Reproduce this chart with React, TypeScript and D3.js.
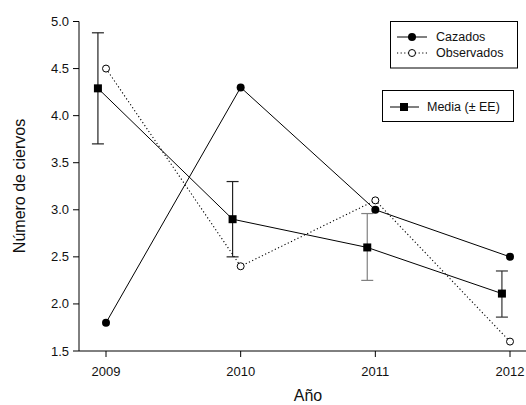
import React from "react";
import * as d3 from "d3";

const years = [2009, 2010, 2011, 2012];
const cazados = [1.8, 4.3, 3.0, 2.5];
const observados = [4.5, 2.4, 3.1, 1.6];
const media = [4.29, 2.9, 2.6, 2.11];
const mediaUpper = [4.88, 3.3, 2.96, 2.35];
const mediaLower = [3.7, 2.5, 2.25, 1.86];
const errColors = ["#222", "#222", "#808080", "#333"];
const yTicks = [1.5, 2.0, 2.5, 3.0, 3.5, 4.0, 4.5, 5.0];

const W = 526;
const H = 405;
const FONT = "'Liberation Sans', Arial, sans-serif";

export default function App() {
  const x = d3.scaleLinear().domain([2009, 2012]).range([106, 510]);
  const y = d3.scaleLinear().domain([1.5, 5.0]).range([351, 21.5]);
  const left = 79;
  const bottom = 351;
  const mOff = -0.06;

  const line = d3
    .line<[number, number]>()
    .x((d) => x(d[0]))
    .y((d) => y(d[1]));

  const cazPts = years.map((yr, i) => [yr, cazados[i]] as [number, number]);
  const obsPts = years.map((yr, i) => [yr, observados[i]] as [number, number]);
  const medPts = years.map((yr, i) => [yr + mOff, media[i]] as [number, number]);

  return (
    <svg
      width={W}
      height={H}
      style={{ position: "absolute", left: 0, top: 0, background: "#fff" }}
      fontFamily={FONT}
    >
      <rect x={0} y={0} width={W} height={H} fill="#fff" />
      {/* axes */}
      <line x1={left} y1={y(5.0)} x2={left} y2={bottom} stroke="#000" strokeWidth={1} />
      <line x1={left} y1={bottom} x2={W} y2={bottom} stroke="#000" strokeWidth={1} />
      {yTicks.map((t) => (
        <g key={t}>
          <line x1={left - 6} x2={left} y1={y(t)} y2={y(t)} stroke="#000" />
          <text x={69} y={y(t)} dy="0.35em" textAnchor="end" fontSize={13} fill="#111">
            {t.toFixed(1)}
          </text>
        </g>
      ))}
      {years.map((yr) => (
        <g key={yr}>
          <line x1={x(yr)} x2={x(yr)} y1={bottom} y2={bottom + 6} stroke="#000" />
          <text x={x(yr)} y={371} dy="0.35em" textAnchor="middle" fontSize={13} fill="#111">
            {yr}
          </text>
        </g>
      ))}
      <text x={308} y={401} textAnchor="middle" fontSize={16} fill="#111">
        Año
      </text>
      <text
        transform={`translate(25,186) rotate(-90)`}
        textAnchor="middle"
        fontSize={16}
        fill="#111"
      >
        Número de ciervos
      </text>

      {/* error bars */}
      {years.map((yr, i) => {
        const cx = x(yr + mOff);
        return (
          <g key={"e" + yr} stroke={errColors[i]} strokeWidth={1.2}>
            <line x1={cx} x2={cx} y1={y(mediaUpper[i])} y2={y(mediaLower[i])} />
            <line x1={cx - 6} x2={cx + 6} y1={y(mediaUpper[i])} y2={y(mediaUpper[i])} />
            <line x1={cx - 6} x2={cx + 6} y1={y(mediaLower[i])} y2={y(mediaLower[i])} />
          </g>
        );
      })}

      {/* lines */}
      <path d={line(medPts) || ""} fill="none" stroke="#000" strokeWidth={1} />
      <path d={line(cazPts) || ""} fill="none" stroke="#000" strokeWidth={1} />
      <path
        d={line(obsPts) || ""}
        fill="none"
        stroke="#000"
        strokeWidth={1.1}
        strokeDasharray="1.2,2.4"
      />

      {/* markers */}
      {medPts.map((p, i) => (
        <rect key={"m" + i} x={x(p[0]) - 4} y={y(p[1]) - 4} width={8} height={8} fill="#000" />
      ))}
      {cazPts.map((p, i) => (
        <circle key={"c" + i} cx={x(p[0])} cy={y(p[1])} r={4} fill="#000" />
      ))}
      {obsPts.map((p, i) => (
        <circle key={"o" + i} cx={x(p[0])} cy={y(p[1])} r={3.5} fill="#fff" stroke="#000" strokeWidth={1} />
      ))}

      {/* legend 1 */}
      <rect x={390.5} y={21.5} width={127} height={46.5} fill="#fff" stroke="#000" strokeWidth={1} />
      <line x1={397} x2={427} y1={37} y2={37} stroke="#000" />
      <circle cx={412} cy={37} r={4} fill="#000" />
      <text x={436} y={37} dy="0.35em" fontSize={12.5} fill="#111">Cazados</text>
      <line x1={397} x2={427} y1={53} y2={53} stroke="#000" strokeDasharray="1.2,2.4" />
      <circle cx={412} cy={53} r={3.5} fill="#fff" stroke="#000" />
      <text x={436} y={53} dy="0.35em" fontSize={12.5} fill="#111">Observados</text>

      {/* legend 2 */}
      <rect x={382.5} y={90.5} width={131} height={31} fill="#fff" stroke="#000" strokeWidth={1} />
      <line x1={390} x2={419} y1={107} y2={107} stroke="#000" />
      <rect x={400} y={103} width={8} height={8} fill="#000" />
      <text x={427} y={107} dy="0.35em" fontSize={12.5} fill="#111">Media (± EE)</text>
    </svg>
  );
}
